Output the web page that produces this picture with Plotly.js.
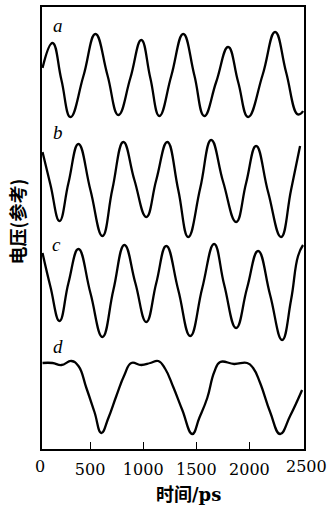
<!DOCTYPE html>
<html>
<head>
<meta charset="utf-8">
<script src="https://cdn.plot.ly/plotly-3.0.1.min.js"></script>
<style>html,body{margin:0;padding:0;background:#fff;}#chart{width:330px;height:507px;}</style>
</head>
<body>
<div id="chart"></div>
<script>
// Time axis values (ps) and voltages (arbitrary reference units, stacked)
const tA = [52,146,230,315,437,550,663,766,879,982,1067,1152,1264,1377,1481,1575,1687,1800,1894,1988,2124,2242,2345,2449,2477,2505];
const vA = [381,406,369,332,373,415,374,334,371,409,371,333,373,415,374,333,367,402,367,332,374,417,377,335,335,338];

const tB = [52,127,212,296,390,503,616,710,813,917,1029,1123,1227,1330,1424,1537,1640,1753,1875,1969,2063,2176,2298,2392,2477];
const vB = [297,264,228,266,305,259,213,260,307,269,232,269,307,259,212,261,309,267,227,266,303,257,212,259,303];

const tC = [52,127,212,296,390,503,616,719,823,926,1029,1123,1217,1330,1443,1556,1668,1763,1875,1978,2082,2195,2308,2392,2458,2505];
const vC = [196,162,128,166,200,156,112,159,204,166,127,166,203,159,113,161,205,164,121,161,198,154,109,149,193,204];

const tD = [52,146,230,324,390,465,541,606,672,747,823,888,982,1067,1142,1208,1283,1368,1462,1528,1603,1669,1725,1856,1979,2035,2101,2195,2289,2383,2496];
const vD = [86,86,84,88,83,61,37,16,31,53,74,86,84,86,88,80,62,39,15,31,51,77,87,85,86,81,66,37,15,33,59];

const curveLabels = ['a','b','c','d'];
const xTickVals = [500,1000,1500,2000];
const xTickText = ['500','1000','1500','2000'];
const edgeTickText = ['0','2500'];
const xTitleCJK = '时间';
const xTitleUnit = '/ps';
const yTitle = '电压(参考)';

const series = [[tA,vA],[tB,vB],[tC,vC],[tD,vD]];
const traces = series.map((s,i)=>({
  x: s[0], y: s[1], type:'scatter', mode:'lines', name: curveLabels[i],
  line:{color:'#000', width:2.3, shape:'spline', smoothing:1.3},
  hoverinfo:'skip'
}));

const labelPos = [[193,424],[202,317],[183,205],[193,103]];
const annotations = curveLabels.map((l,i)=>({
  text:l, x:labelPos[i][0], y:labelPos[i][1], xref:'x', yref:'y', showarrow:false,
  font:{family:'Liberation Serif, serif', size:19, color:'#000', style:'italic'},
  xanchor:'center', yanchor:'middle'
}));
annotations.push({text:edgeTickText[0], x:-0.006, y:-0.0385, xref:'paper', yref:'paper', showarrow:false,
  font:{family:'DejaVu Serif, serif', size:16, color:'#000'}, xanchor:'center', yanchor:'middle'});
annotations.push({text:edgeTickText[1], x:1.011, y:-0.0385, xref:'paper', yref:'paper', showarrow:false,
  font:{family:'DejaVu Serif, serif', size:16, color:'#000'}, xanchor:'center', yanchor:'middle'});
annotations.push({text:'<b>'+xTitleCJK+'<span style="font-family:DejaVu Serif">'+xTitleUnit+'</span></b>', x:0.56, y:-0.1, xref:'paper', yref:'paper', showarrow:false,
  font:{family:'Noto Sans CJK SC, sans-serif', size:18, color:'#000'}, xanchor:'center', yanchor:'middle'});
annotations.push({text:'<b>'+yTitle+'</b>', x:-0.097, y:0.514, xref:'paper', yref:'paper', showarrow:false, textangle:-90,
  font:{family:'Noto Sans CJK SC, sans-serif', size:18, color:'#000'}, xanchor:'center', yanchor:'middle'});

const layout = {
  width:330, height:507,
  margin:{l:41.5, r:26, t:7, b:58},
  paper_bgcolor:'#fff', plot_bgcolor:'#fff',
  showlegend:false,
  xaxis:{range:[47,2514], showgrid:false, zeroline:false, showline:true, mirror:true, linecolor:'#000', linewidth:1.8,
    tickvals:xTickVals, ticktext:xTickText, ticks:'inside', ticklen:7, tickwidth:1.2, tickcolor:'#000',
    tickfont:{family:'DejaVu Serif, serif', size:16, color:'#000'}, ticklabelstandoff:5},
  yaxis:{range:[0,442], showgrid:false, zeroline:false, showline:true, mirror:true, linecolor:'#000', linewidth:1.8,
    showticklabels:false, ticks:''},
  annotations: annotations
};

Plotly.newPlot('chart', traces, layout, {staticPlot:true, displayModeBar:false});
</script>
</body>
</html>
